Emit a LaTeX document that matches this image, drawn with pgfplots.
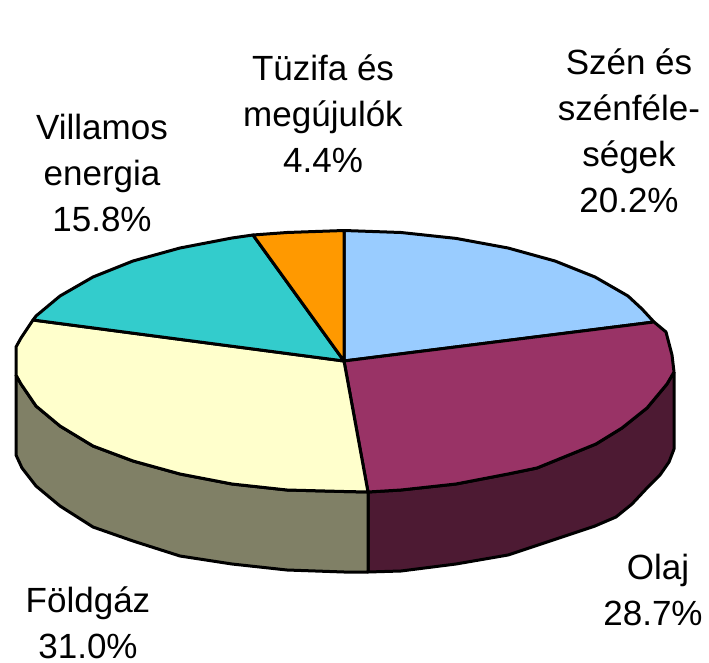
\documentclass[border=0pt]{standalone}
\usepackage{fontspec}
\setmainfont{Liberation Sans}
\usepackage{pgfplots}
\pgfplotsset{compat=1.18}
\definecolor{cBlue}{HTML}{99CCFF}
\definecolor{cMaroon}{HTML}{993366}
\definecolor{cMaroonD}{HTML}{4D1A33}
\definecolor{cYellow}{HTML}{FFFFCC}
\definecolor{cOlive}{HTML}{808066}
\definecolor{cTeal}{HTML}{33CCCC}
\definecolor{cOrange}{HTML}{FF9900}
\tikzset{lbl/.style={font=\fontsize{35}{46}\selectfont, align=center, text=black, inner sep=0pt}}
\begin{document}
\begin{tikzpicture}
\path[use as bounding box] (0,0) rectangle (709pt,663pt);
\begin{axis}[
  at={(0,0)}, anchor=south west,
  scale only axis, width=709pt, height=663pt,
  xmin=0, xmax=709, ymin=0, ymax=663, y dir=reverse,
  hide axis, clip=false,
  every axis plot/.append style={draw=black, line width=3pt, line join=round},
]
% side walls
\addplot[fill=cMaroonD] coordinates {(674,372)(674,449)(669,462)(660,475)(647,488)(632,504)(616,517)(595,526)(559,538)(508,555)(456,564)(401,571)(368,572)(368,492)(401,490)(456,484)(508,474)(537,468)(596,444)(622,428)(647,408)(667,384)(674,372)};
\addplot[fill=cOlive] coordinates {(16,375)(16,455)(22,468)(36,486)(60,506)(93,527)(133,541)(180,556)(232,564)(287,570)(344,572)(368,572)(368,492)(344,491.5)(287,490)(232,484)(180,474)(133,461)(93,446)(60,426)(36,406)(21,384)(16,375)};
% top slices
\addplot[fill=cBlue] coordinates {(344,361)(344,230.5)(401,232.5)(456,238.4)(508,248)(555,261)(595,277)(628,296)(642,309)(654,322)(344,361)};
\addplot[fill=cMaroon] coordinates {(344,361)(654,322)(666,332)(672,355)(674,372)(667,384)(647,408)(622,428)(596,444)(537,468)(508,474)(456,484)(401,490)(368,492)(344,361)};
\addplot[fill=cYellow] coordinates {(344,361)(368,492)(344,491.5)(287,490)(232,484)(180,474)(133,461)(93,446)(60,426)(36,406)(21,384)(16,375)(16,347)(21,338)(33,320)(344,361)};
\addplot[fill=cTeal] coordinates {(344,361)(33,320)(36,316)(60,296)(93,277)(133,261)(180,248)(232,238)(253,235)(344,361)};
\addplot[fill=cOrange] coordinates {(344,361)(253,235)(287,232.5)(344,230.5)(344,361)};
% labels
\node[lbl] at (axis cs:629,131) {Szén és\\szénféle-\\ségek\\20.2\%};
\node[lbl] at (axis cs:323,114) {Tüzifa és\\megújulók\\4.4\%};
\node[lbl] at (axis cs:102,173) {Villamos\\energia\\15.8\%};
\node[lbl] at (axis cs:653,590) {\hspace{10pt}Olaj\\28.7\%};
\node[lbl] at (axis cs:88,623) {Földgáz\\31.0\%};
\end{axis}
\end{tikzpicture}
\end{document}
